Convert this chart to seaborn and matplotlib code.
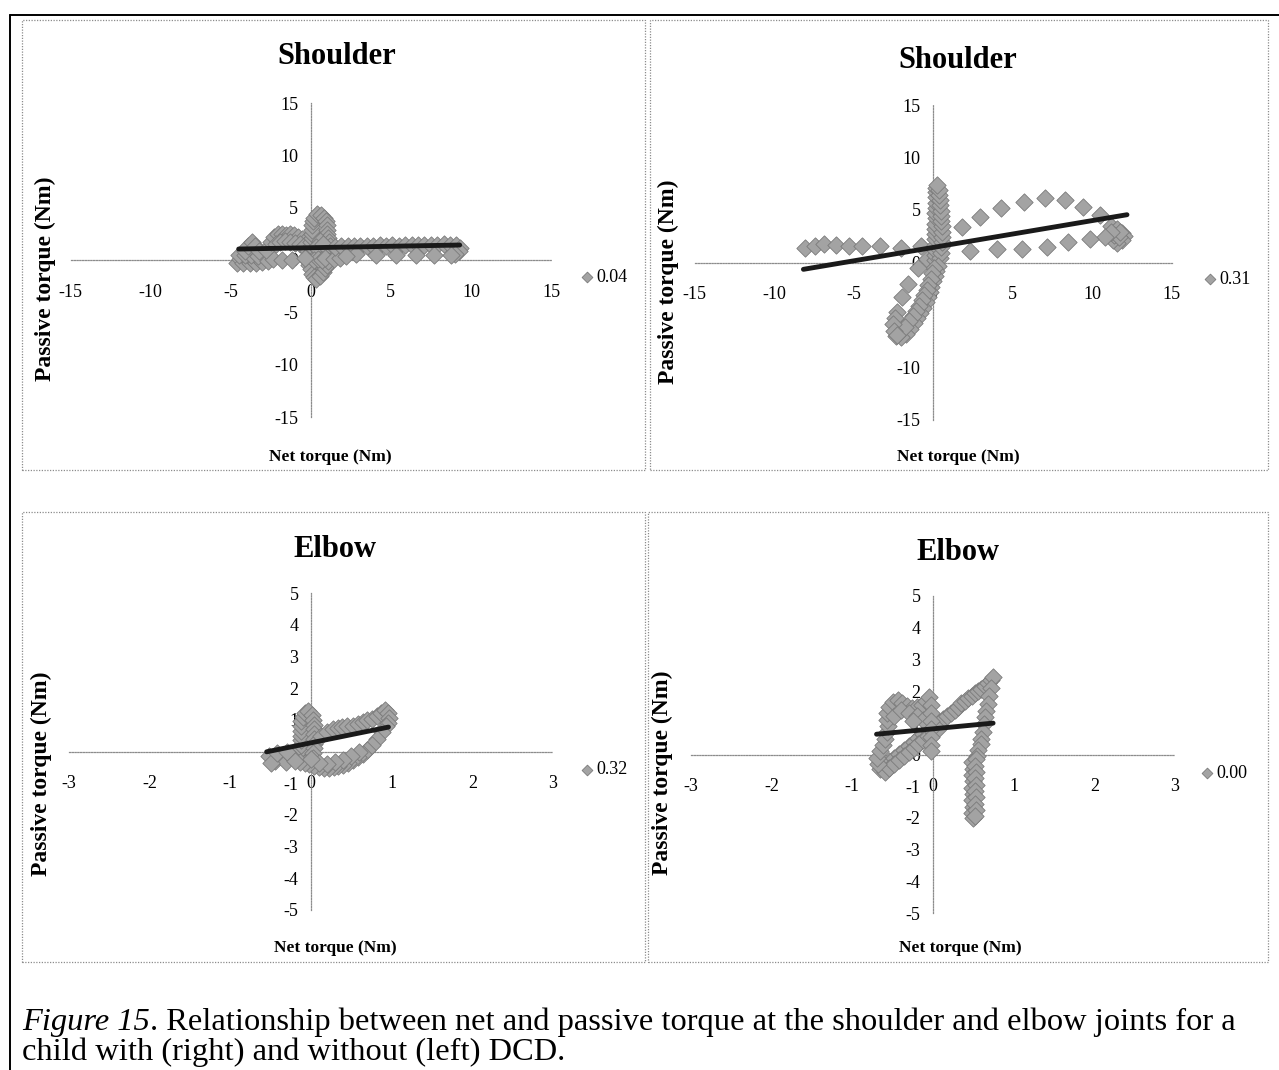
import matplotlib
matplotlib.use("Agg")
import matplotlib.pyplot as plt
from matplotlib.lines import Line2D
from matplotlib.patches import Rectangle
import seaborn as sns

# ---------------------------------------------------------------- data ---
# Shoulder, child without DCD (left column)
shoulder_td_net = [
    -4.6, -4.4, -4.2, -4.0, -3.8, -3.6, -3.4, -3.2, -3.05, -4.5, -4.1, -3.7, -3.3,
    -4.1, -3.9, -3.65, -3.45, -3.25,
    -2.7, -2.35, -1.8, -1.2,
    -2.8, -2.5, -2.3, -2.05, -1.8, -1.55, -1.3, -1.05, -0.8, -0.55, -0.35,
    -2.2, -1.9, -1.6, -1.3, -1.0, -0.7, -0.45, -0.2,
    0.1, 0.05, 0.0, 0.0, 0.05, 0.05, 0.1, 0.1, 0.15, 0.2, 0.4, 0.65, 0.85, 0.95,
    1.0, 1.0, 1.0, 1.05, 1.15, 1.2, 1.2, 1.1, 0.45, 0.55, 0.5, 0.55, 0.7, 0.35, 0.75,
    -0.2, -0.1, 0.0, 0.1, 0.2, 0.35, 0.55, 0.75, 0.9, 1.0, 1.05, 0.2, 0.45, 0.7, 0.9,
    -0.35, 1.45, 1.8,
    1.5, 1.9, 2.3, 2.7, 3.1, 3.5, 3.9, 4.3, 4.7, 5.1, 5.5, 5.9, 6.3, 6.7, 7.1, 7.5,
    7.9, 8.3, 8.7, 9.05,
    9.3, 9.25, 9.0, 8.75, 7.7, 6.6, 5.3, 4.1, 2.8, 2.2,
]
shoulder_td_passive = [
    -0.25, 0.1, -0.3, 0.05, -0.3, 0.0, -0.3, 0.05, -0.2, 0.45, 0.5, 0.45, 0.4,
    0.9, 1.3, 1.75, 1.35, 0.85,
    -0.1, 0.05, 0.0, 0.0,
    1.0, 1.7, 2.2, 2.45, 2.5, 2.4, 2.5, 2.35, 2.2, 2.05, 1.8,
    1.5, 1.7, 1.8, 1.75, 1.6, 1.5, 1.3, 0.9,
    0.5, 0.9, 1.3, 1.7, 2.1, 2.5, 2.9, 3.3, 3.7, 4.05, 4.35, 4.3, 4.05, 3.7,
    3.3, 2.9, 2.5, 2.1, 1.7, 1.3, 0.9, 0.55, 0.6, 1.0, 1.4, 1.8, 0.8, 1.2, 1.5,
    -0.1, -0.5, -0.9, -1.3, -1.65, -1.8, -1.5, -1.15, -0.8, -0.45, -0.1, 0.0, 0.05, 0.0, 0.15,
    0.2, 0.1, 0.15,
    1.25, 1.3, 1.35, 1.3, 1.35, 1.3, 1.35, 1.4, 1.35, 1.4, 1.35, 1.4, 1.45, 1.4, 1.45, 1.4,
    1.45, 1.5, 1.45, 1.45,
    1.15, 0.85, 0.6, 0.5, 0.45, 0.45, 0.5, 0.5, 0.55, 0.4,
]
shoulder_td_fit_net = [-4.5, 9.3]
shoulder_td_fit_passive = [1.05, 1.43]

# Shoulder, child with DCD (right column)
shoulder_dcd_net = [
    -8.05, -7.45, -6.86, -6.13, -5.28, -4.44, -3.36, -2.03, -0.75, -0.35,
    0.12, 0.1, 0.12, 0.13, 0.14, 0.13, 0.15, 0.15, 0.16, 0.15, 0.16, 0.17, 0.18, 0.2, 0.2,
    0.45, 0.5, 0.5, 0.55, 0.55, 0.55, 0.55, 0.52, 0.5, 0.48, 0.45, 0.42, 0.4, 0.38, 0.25,
    0.3, 0.2, 0.1, 0.0, -0.1, -0.2, -0.3, -0.45, -0.6, -0.8, -1.0, -1.2, -1.45, -1.7, -2.0, -2.3,
    0.05, -0.05, -0.15, -0.3, -0.4, -0.55, -0.7, -0.85, -1.05, -1.25, -1.5, -1.75,
    -0.92, -1.55, -1.97, -2.28, -2.4, -2.5, -2.45, -2.25,
    1.8, 2.96, 4.3, 5.7, 7.05, 8.3, 9.45, 10.5,
    11.2, 11.6, 11.9, 12.0, 11.9, 11.6, 11.3, 11.4, 11.7, 11.75, 11.2,
    10.8, 9.85, 8.5, 7.15, 5.6, 4.0, 2.35,
]
shoulder_dcd_passive = [
    1.35, 1.6, 1.75, 1.65, 1.6, 1.6, 1.55, 1.4, 1.6, 0.3,
    0.2, 0.7, 1.2, 1.7, 2.2, 2.7, 3.2, 3.7, 4.2, 4.7, 5.2, 5.7, 6.2, 6.7, 7.1,
    0.45, 0.95, 1.45, 1.95, 2.45, 2.95, 3.45, 3.95, 4.45, 4.95, 5.45, 5.95, 6.45, 6.9, 7.4,
    -0.3, -0.8, -1.3, -1.8, -2.3, -2.8, -3.3, -3.8, -4.3, -4.8, -5.3, -5.8, -6.3, -6.8, -7.1, -7.0,
    -0.5, -1.0, -1.6, -2.1, -2.6, -3.1, -3.6, -4.1, -4.6, -5.1, -5.6, -6.1,
    -0.55, -2.0, -3.25, -4.68, -5.3, -5.9, -6.5, -6.95,
    3.4, 4.35, 5.15, 5.8, 6.1, 6.0, 5.3, 4.5,
    3.5, 3.2, 2.85, 2.5, 2.15, 1.9, 2.1, 2.6, 2.4, 2.9, 2.95,
    2.4, 2.2, 1.95, 1.45, 1.25, 1.25, 1.1,
]
shoulder_dcd_fit_net = [-8.15, 12.2]
shoulder_dcd_fit_passive = [-0.65, 4.55]

# Elbow, child without DCD (left column)
elbow_td_net = [
    -0.14, -0.14, -0.13, -0.13, -0.13, -0.13, -0.13, -0.12, -0.1, -0.08,
    -0.04,
    0.01, 0.02, 0.04, 0.04, 0.04, 0.04, 0.04, 0.04, 0.03, 0.02,
    -0.52, -0.45, -0.38, -0.31, -0.24, -0.5, -0.42, -0.3,
    0.13, 0.2, 0.27, 0.33, 0.39, 0.45, 0.52, 0.58, 0.64, 0.7, 0.76, 0.82, 0.87, 0.92,
    0.96, 0.97, 0.95,
    0.93, 0.88, 0.82, 0.76, 0.7, 0.64, 0.58, 0.52, 0.46, 0.4, 0.34, 0.28, 0.22, 0.16,
    0.1, 0.04, -0.02, -0.08, -0.14, -0.2,
    0.6, 0.5, 0.4, 0.3, 0.2, 0.1, 0.0,
]
elbow_td_passive = [
    -0.1, 0.05, 0.2, 0.35, 0.5, 0.65, 0.8, 0.95, 1.1, 1.22,
    1.28,
    1.15, 1.0, 0.85, 0.7, 0.55, 0.4, 0.25, 0.1, -0.05, -0.2,
    -0.15, -0.3, -0.15, -0.32, -0.18, -0.35, -0.05, 0.0,
    0.5, 0.62, 0.71, 0.75, 0.78, 0.8, 0.81, 0.88, 0.94, 0.99, 1.04, 1.12, 1.2, 1.3,
    1.2, 1.05, 0.9,
    0.8, 0.6, 0.4, 0.22, 0.05, -0.07, -0.18, -0.28, -0.36, -0.42, -0.47, -0.5, -0.52, -0.53,
    -0.5, -0.45, -0.4, -0.36, -0.33, -0.3,
    -0.02, -0.15, -0.27, -0.33, -0.38, -0.35, -0.25,
]
elbow_td_fit_net = [-0.55, 0.96]
elbow_td_fit_passive = [-0.01, 0.77]

# Elbow, child with DCD (right column)
elbow_dcd_net = [
    -0.66, -0.6, -0.54, -0.48, -0.42, -0.36, -0.3, -0.24, -0.18, -0.12, -0.06, 0.0, 0.06, 0.12,
    -0.6, -0.54, -0.48, -0.42, -0.36, -0.3, -0.24, -0.18, -0.12, -0.06, 0.0, 0.06,
    0.17, 0.22, 0.27, 0.31, 0.35, 0.4, 0.44, 0.48, 0.52, 0.56, 0.6, 0.64, 0.68, 0.72, 0.745,
    0.72, 0.7, 0.68, 0.66, 0.64, 0.63, 0.62, 0.6, 0.59, 0.56, 0.54,
    0.48, 0.49, 0.48, 0.49, 0.48, 0.49, 0.48, 0.49, 0.48, 0.49,
    0.53, 0.52, 0.53, 0.52, 0.53, 0.52, 0.53, 0.52, 0.53, 0.52,
    -0.68, -0.69, -0.66, -0.62, -0.6, -0.57, -0.56, -0.57, -0.57, -0.54, -0.5, -0.44,
    -0.38, -0.32, -0.26, -0.2, -0.14, -0.09, -0.05,
    -0.48, -0.4, -0.3, -0.2, -0.12, -0.25,
    -0.03, -0.02, -0.02, -0.03, -0.03, -0.03, -0.03,
]
elbow_dcd_passive = [
    -0.45, -0.35, -0.22, -0.1, 0.02, 0.15, 0.28, 0.4, 0.52, 0.65, 0.78, 0.9, 1.02, 1.12,
    -0.55, -0.42, -0.3, -0.18, -0.05, 0.08, 0.2, 0.32, 0.45, 0.58, 0.7, 0.82,
    1.2, 1.3, 1.4, 1.5, 1.61, 1.69, 1.77, 1.85, 1.93, 2.0, 2.08, 2.16, 2.24, 2.35, 2.45,
    2.1, 1.85, 1.6, 1.38, 1.17, 0.95, 0.72, 0.5, 0.32, 0.14, -0.05,
    -0.25, -0.45, -0.65, -0.85, -1.05, -1.25, -1.45, -1.65, -1.85, -2.0,
    -0.15, -0.35, -0.55, -0.75, -0.95, -1.15, -1.35, -1.55, -1.75, -1.95,
    -0.3, -0.1, 0.1, 0.3, 0.5, 0.7, 0.9, 1.1, 1.3, 1.5, 1.65, 1.72,
    1.62, 1.52, 1.47, 1.5, 1.55, 1.68, 1.8,
    1.2, 1.4, 1.3, 1.2, 1.1, 1.05,
    1.55, 1.3, 1.05, 0.8, 0.55, 0.3, 0.1,
]
elbow_dcd_fit_net = [-0.7, 0.745]
elbow_dcd_fit_passive = [0.64, 0.99]

r2_labels = ["0.04", "0.31", "0.32", "0.00"]
panel_titles = ["Shoulder", "Shoulder", "Elbow", "Elbow"]
shoulder_ticks = [-15, -10, -5, 0, 5, 10, 15]
elbow_xticks = [-3, -2, -1, 0, 1, 2, 3]
elbow_yticks = [-5, -4, -3, -2, -1, 0, 1, 2, 3, 4, 5]
x_label = "Net torque (Nm)"
y_label = "Passive torque (Nm)"
caption_lead = "Figure 15"
caption_rest = (". Relationship between net and passive torque at the shoulder "
                "and elbow joints for a")
caption_line2 = "child with (right) and without (left) DCD."

# -------------------------------------------------------------- layout ---
W, H, DPI = 1279, 1070, 100
GRID = "#8c8c8c"
POINT_FACE = "#a3a3a3"
POINT_EDGE = "#7a7a7a"
LINE = "#1a1a1a"

sns.set_style("white")
plt.rcParams["font.family"] = ["Liberation Serif", "DejaVu Serif"]
plt.rcParams["axes.unicode_minus"] = False
plt.rcParams["text.color"] = "black"

fig = plt.figure(figsize=(W / DPI, H / DPI), dpi=DPI)
fig.patch.set_facecolor("white")


def fx(px):
    return px / W


def fy(py):
    return 1 - py / H


panels = [
    dict(net=shoulder_td_net, passive=shoulder_td_passive,
         fit_x=shoulder_td_fit_net, fit_y=shoulder_td_fit_passive,
         xticks=shoulder_ticks, yticks=shoulder_ticks,
         frame=(22, 20, 645, 470), axes=(70.5, 551, 103, 417),
         title=(337, 57), ylab=(45, 279), xlab=(330, 457), legend=(581, 277)),
    dict(net=shoulder_dcd_net, passive=shoulder_dcd_passive,
         fit_x=shoulder_dcd_fit_net, fit_y=shoulder_dcd_fit_passive,
         xticks=shoulder_ticks, yticks=shoulder_ticks,
         frame=(650, 20, 1268, 470), axes=(694.5, 1171.5, 105, 420),
         title=(958, 60), ylab=(668, 282), xlab=(958, 457), legend=(1204, 279)),
    dict(net=elbow_td_net, passive=elbow_td_passive,
         fit_x=elbow_td_fit_net, fit_y=elbow_td_fit_passive,
         xticks=elbow_xticks, yticks=elbow_yticks,
         frame=(22, 512, 645, 962), axes=(69, 553, 593, 910),
         title=(335, 550), ylab=(41, 774), xlab=(335, 948), legend=(581, 770)),
    dict(net=elbow_dcd_net, passive=elbow_dcd_passive,
         fit_x=elbow_dcd_fit_net, fit_y=elbow_dcd_fit_passive,
         xticks=elbow_xticks, yticks=elbow_yticks,
         frame=(648, 512, 1268, 962), axes=(691, 1175, 596, 913),
         title=(958, 552), ylab=(662, 773), xlab=(960, 948), legend=(1201, 773)),
]

for i, p in enumerate(panels):
    x0, y0, x1, y1 = p["frame"]
    fig.add_artist(Rectangle((fx(x0), fy(y1)), (x1 - x0) / W, (y1 - y0) / H,
                             transform=fig.transFigure, fill=False,
                             edgecolor=GRID, linewidth=0.9, linestyle=(0, (1, 1.2))))

    l, r, t, b = p["axes"]
    ax = fig.add_axes([fx(l), fy(b), (r - l) / W, (b - t) / H])
    ax.set_facecolor("none")

    sns.scatterplot(x=p["net"], y=p["passive"], ax=ax, marker="D", s=78,
                    color=POINT_FACE, edgecolor=POINT_EDGE, linewidth=0.6,
                    label=r2_labels[i], zorder=3)
    sns.lineplot(x=p["fit_x"], y=p["fit_y"], ax=ax, color=LINE, linewidth=3.5,
                 solid_capstyle="round", zorder=4)

    ax.set_xlim(p["xticks"][0], p["xticks"][-1])
    ax.set_ylim(p["yticks"][0], p["yticks"][-1])
    ax.set_xticks(p["xticks"])
    ax.set_yticks(p["yticks"])
    ax.set_xlabel("")
    ax.set_ylabel("")

    for side in ("top", "right"):
        ax.spines[side].set_visible(False)
    for side in ("left", "bottom"):
        sp = ax.spines[side]
        sp.set_position(("data", 0))
        sp.set_color(GRID)
        sp.set_linewidth(0.9)
        sp.set_linestyle((0, (1, 1.2)))
        sp.set_zorder(2)

    ax.tick_params(axis="both", direction="out", length=3, width=0.8,
                   color=GRID, labelsize=13, labelcolor="black")
    ax.tick_params(axis="x", pad=14)
    ax.tick_params(axis="y", pad=6)

    handle = ax.collections[0]
    ax.legend(handles=[handle], labels=[r2_labels[i]], loc="center left",
              bbox_to_anchor=(fx(p["legend"][0]), fy(p["legend"][1])),
              bbox_transform=fig.transFigure, frameon=False, fontsize=13,
              handlelength=0.7, handletextpad=0.15, borderpad=0,
              borderaxespad=0, markerscale=0.62, labelcolor="black")

    fig.text(fx(p["title"][0]), fy(p["title"][1]), panel_titles[i],
             ha="center", va="center", fontsize=22, fontweight="bold")
    fig.text(fx(p["ylab"][0]), fy(p["ylab"][1]), y_label, rotation=90,
             ha="center", va="center", fontsize=17, fontweight="bold")
    fig.text(fx(p["xlab"][0]), fy(p["xlab"][1]), x_label,
             ha="center", va="center", fontsize=12.5, fontweight="bold")

# outer frame of the figure block
fig.add_artist(Line2D([fx(10), 1.0], [fy(15), fy(15)], transform=fig.transFigure,
                      color="black", linewidth=1.4))
fig.add_artist(Line2D([fx(10), fx(10)], [fy(15), 0.0], transform=fig.transFigure,
                      color="black", linewidth=1.4))

# caption
renderer = fig.canvas.get_renderer()
lead = fig.text(fx(22), fy(1030), caption_lead, fontsize=23.4, style="italic",
                va="baseline", ha="left")
bb = lead.get_window_extent(renderer=renderer)
fig.text(bb.x1 / W, fy(1030), caption_rest, fontsize=23.4, va="baseline", ha="left")
fig.text(fx(22), fy(1060), caption_line2, fontsize=23.4, va="baseline", ha="left")

fig.savefig("out.png", dpi=DPI, facecolor="white")
